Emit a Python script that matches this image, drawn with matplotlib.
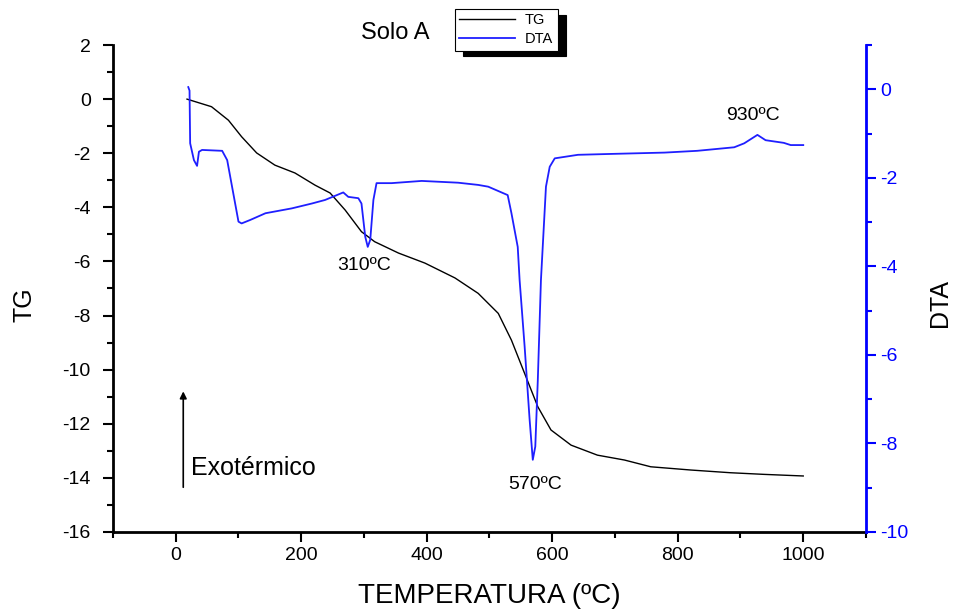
import matplotlib
matplotlib.use('Agg')
import matplotlib.pyplot as plt
from matplotlib.ticker import MultipleLocator

plt.rcParams['font.family'] = ['Liberation Sans', 'DejaVu Sans']
plt.rcParams['axes.unicode_minus'] = False

# TG curve (mass loss) vs temperature
tg_temp = [18, 57, 84, 105, 129, 158, 190, 222, 246, 270, 296, 317, 355, 397, 445,
           482, 514, 535, 556, 577, 598, 630, 672, 715, 757, 821, 884, 937, 1000]
tg = [0.0, -0.28, -0.78, -1.39, -1.99, -2.44, -2.73, -3.18, -3.47, -4.10, -4.90, -5.27,
      -5.69, -6.06, -6.61, -7.18, -7.92, -8.91, -10.14, -11.37, -12.23, -12.79, -13.16,
      -13.34, -13.59, -13.71, -13.81, -13.87, -13.93]

# DTA curve vs temperature
dta_temp = [20, 22, 23, 29, 34, 37, 42, 74, 82, 100, 105, 119, 143, 185, 217, 238, 267,
            275, 291, 296, 302, 306, 310, 315, 320, 344, 392, 450, 482, 498, 529, 535,
            545, 548, 556, 564, 569, 573, 577, 582, 590, 596, 604, 641, 694, 779, 831,
            890, 906, 927, 940, 969, 980, 1000]
dta = [0.05, -0.03, -1.22, -1.60, -1.73, -1.41, -1.37, -1.39, -1.60, -2.99, -3.03, -2.95,
       -2.80, -2.69, -2.58, -2.50, -2.33, -2.43, -2.46, -2.58, -3.33, -3.56, -3.40, -2.50,
       -2.12, -2.12, -2.07, -2.11, -2.16, -2.20, -2.39, -2.80, -3.56, -4.31, -5.81, -7.47,
       -8.37, -8.07, -6.57, -4.31, -2.20, -1.75, -1.56, -1.48, -1.46, -1.43, -1.39, -1.31,
       -1.22, -1.03, -1.15, -1.21, -1.26, -1.26]

# peak labels (temperature, DTA level)
peak_labels = ['310ºC', '570ºC', '930ºC']
peak_x = [300, 572, 920]
peak_y = [-3.99, -8.92, -0.60]

blue = '#1f1fff'

fig = plt.figure(figsize=(9.55, 6.1), dpi=100)
ax = fig.add_axes([0.1183, 0.1279, 0.7885, 0.7983])
ax2 = ax.twinx()

l1, = ax.plot(tg_temp, tg, color='black', lw=1.0, label='TG')
l2, = ax2.plot(dta_temp, dta, color=blue, lw=1.3, label='DTA')

ax.set_xlim(-100, 1100)
ax.set_ylim(-16, 2)
ax2.set_ylim(-10, 1)

ax.xaxis.set_major_locator(MultipleLocator(200))
ax.xaxis.set_minor_locator(MultipleLocator(100))
ax.yaxis.set_major_locator(MultipleLocator(2))
ax.yaxis.set_minor_locator(MultipleLocator(1))
ax2.yaxis.set_major_locator(MultipleLocator(2))
ax2.yaxis.set_minor_locator(MultipleLocator(1))

for a in (ax, ax2):
    a.spines['top'].set_visible(False)
ax.spines['right'].set_visible(False)
ax2.spines['left'].set_visible(False)
ax2.spines['bottom'].set_visible(False)
ax.spines['left'].set_linewidth(2)
ax.spines['bottom'].set_linewidth(2)
ax2.spines['right'].set_linewidth(2)
ax2.spines['right'].set_color('blue')

ax.tick_params(which='major', length=7, width=1.5, labelsize=14, direction='out')
ax.tick_params(axis='y', which='major', pad=9)
ax.tick_params(which='minor', length=4, width=1.5, direction='out')
ax2.tick_params(which='major', length=7, width=1.5, labelsize=14, colors='blue',
                direction='out')
ax2.tick_params(which='minor', length=4, width=1.5, colors='blue', direction='out')

ax.set_xlabel('TEMPERATURA (ºC)', fontsize=20, labelpad=14)
ax.set_ylabel('TG', fontsize=18)
ax2.set_ylabel('DTA', fontsize=18)
ax.yaxis.set_label_coords(-0.101, 0.466)
ax2.yaxis.set_label_coords(1.083, 0.470)

for lab, x, y in zip(peak_labels, peak_x, peak_y):
    ax2.text(x, y, lab, fontsize=14, ha='center', va='center')

fig.text(0.414, 0.946, 'Solo A', fontsize=17, ha='center', va='center')

ax.annotate('', xy=(12, -10.7), xytext=(12, -14.45),
            arrowprops=dict(arrowstyle='-|>', color='black', lw=1.2, mutation_scale=10))
ax.text(25, -13.64, 'Exotérmico', fontsize=18, ha='left', va='center')

leg = fig.legend([l1, l2], ['TG', 'DTA'], loc='upper left',
                 bbox_to_anchor=(455 / 955, 1 - 9 / 610), fontsize=10.5,
                 frameon=True, fancybox=False, handlelength=3.8, borderpad=0.3,
                 labelspacing=0.35, handletextpad=0.7, borderaxespad=0,
                 shadow={'ox': 6, 'oy': -4, 'color': 'black', 'alpha': 1})
leg.get_frame().set_edgecolor('black')
leg.get_frame().set_linewidth(0.8)

fig.savefig('out.png', dpi=100)
